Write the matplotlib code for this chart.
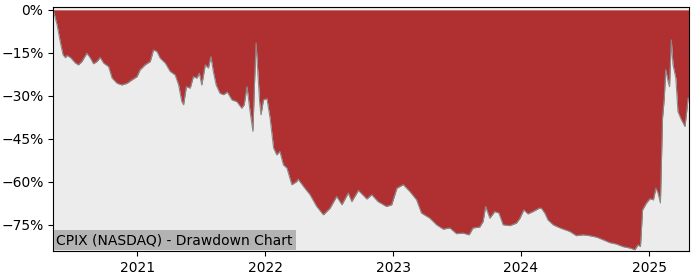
import matplotlib
matplotlib.use('Agg')
import matplotlib.pyplot as plt
import matplotlib.dates as mdates
from matplotlib.ticker import PercentFormatter
import pandas as pd

# drawdown (%), CPIX daily close
dates = [
    '2020-05-06', '2020-05-17', '2020-05-26', '2020-06-03', '2020-06-10', '2020-06-14',
    '2020-06-24', '2020-07-08', '2020-07-17', '2020-07-27', '2020-08-10', '2020-08-20',
    '2020-08-29', '2020-09-08', '2020-09-17', '2020-09-27', '2020-10-11', '2020-10-21',
    '2020-11-04', '2020-11-18', '2020-12-03', '2020-12-17', '2020-12-31', '2021-01-09',
    '2021-01-23', '2021-02-07', '2021-02-16', '2021-02-26', '2021-03-07', '2021-03-22',
    '2021-04-05', '2021-04-19', '2021-04-29', '2021-05-08', '2021-05-13', '2021-05-21',
    '2021-06-01', '2021-06-10', '2021-06-20', '2021-06-27', '2021-07-04', '2021-07-14',
    '2021-07-23', '2021-07-30', '2021-08-06', '2021-08-14', '2021-08-25', '2021-09-04',
    '2021-09-15', '2021-09-28', '2021-10-12', '2021-10-26', '2021-11-02', '2021-11-10',
    '2021-11-19', '2021-11-27', '2021-12-01', '2021-12-06', '2021-12-11', '2021-12-16',
    '2021-12-20', '2021-12-27', '2022-01-06', '2022-01-15', '2022-01-25', '2022-02-03',
    '2022-02-12', '2022-02-22', '2022-03-04', '2022-03-18', '2022-04-01', '2022-04-05',
    '2022-04-24', '2022-05-09', '2022-05-28', '2022-06-16', '2022-07-05', '2022-07-24',
    '2022-08-08', '2022-08-26', '2022-09-05', '2022-09-24', '2022-10-18', '2022-11-01',
    '2022-11-19', '2022-12-13', '2022-12-28', '2023-01-12', '2023-01-30', '2023-02-18',
    '2023-03-09', '2023-03-23', '2023-04-16', '2023-05-05', '2023-05-24', '2023-06-12',
    '2023-07-01', '2023-07-20', '2023-08-06', '2023-08-17', '2023-09-05', '2023-09-15',
    '2023-09-22', '2023-10-04', '2023-10-18', '2023-10-30', '2023-11-11', '2023-11-30',
    '2023-12-19', '2023-12-29', '2024-01-09', '2024-01-21', '2024-02-04', '2024-02-22',
    '2024-02-28', '2024-03-09', '2024-03-18', '2024-04-02', '2024-04-16', '2024-04-30',
    '2024-05-19', '2024-06-07', '2024-06-26', '2024-07-15', '2024-08-04', '2024-08-22',
    '2024-09-10', '2024-09-29', '2024-10-18', '2024-11-07', '2024-11-21', '2024-11-30',
    '2024-12-07', '2024-12-13', '2024-12-24', '2025-01-03', '2025-01-13', '2025-01-20',
    '2025-01-26', '2025-02-02', '2025-02-08', '2025-02-13', '2025-02-17', '2025-02-24',
    '2025-02-28', '2025-03-05', '2025-03-10', '2025-03-18', '2025-03-24', '2025-04-03',
    '2025-04-13', '2025-04-17', '2025-04-22', '2025-04-24',
]
drawdown = [
    0.0, -5.2, -11.1, -15.7, -16.7, -15.9,
    -16.6, -18.5, -19.2, -18.0, -15.1, -16.8,
    -18.8, -18.0, -16.6, -18.6, -19.8, -23.8,
    -25.6, -26.2, -25.6, -24.4, -23.3, -20.9,
    -19.2, -18.0, -14.0, -14.5, -16.8, -18.6,
    -21.5, -22.7, -26.2, -32.0, -33.1, -26.8,
    -27.3, -23.3, -23.8, -22.1, -26.2, -19.2,
    -20.3, -16.3, -21.5, -26.2, -29.1, -29.6,
    -28.7, -31.4, -32.0, -34.3, -33.1, -26.8,
    -35.5, -42.4, -27.3, -11.6, -21.5, -32.0,
    -36.6, -31.4, -31.0, -37.8, -48.2, -50.6,
    -49.4, -54.1, -55.2, -61.0, -59.9, -59.1,
    -62.2, -64.5, -68.6, -71.5, -69.2, -65.1,
    -68.0, -63.9, -66.9, -63.0, -66.0, -64.5,
    -66.9, -68.6, -68.0, -62.2, -61.0, -63.4,
    -66.3, -70.9, -72.7, -75.0, -76.5, -76.1,
    -78.1, -77.9, -78.5, -76.1, -75.8, -73.8,
    -68.6, -72.7, -70.4, -70.9, -75.0, -75.3,
    -74.4, -72.7, -69.8, -71.2, -70.4, -69.2,
    -69.2, -70.9, -73.3, -75.0, -75.8, -76.5,
    -77.3, -78.8, -78.5, -78.8, -79.3, -80.2,
    -81.2, -81.7, -82.6, -83.1, -83.7, -82.0,
    -82.6, -69.8, -67.4, -65.9, -66.3, -62.2,
    -63.9, -67.4, -37.8, -30.8, -20.9, -25.0,
    -26.8, -10.5, -19.2, -23.8, -35.5, -38.4,
    -40.7, -36.6, -30.8, -30.8,
]
ticker_label = 'CPIX (NASDAQ) - Drawdown Chart'

x = pd.to_datetime(dates)

fig = plt.figure(figsize=(7, 2.8), dpi=100)
ax = fig.add_axes([0.076, 0.104, 0.908, 0.871])
ax.set_facecolor('#ececec')

ax.fill_between(x, drawdown, 0, color='#b03031', linewidth=0)
ax.plot(x, drawdown, color='#8a8a8a', linewidth=0.8)

ax.set_xlim(x[0], x[-1])
ax.set_ylim(-84.1, 1)
ax.set_yticks([0, -15, -30, -45, -60, -75])
ax.yaxis.set_major_formatter(PercentFormatter(decimals=0))
ax.xaxis.set_major_locator(mdates.YearLocator())
ax.xaxis.set_major_formatter(mdates.DateFormatter('%Y'))

ax.text(0.005, 0.015, ticker_label, transform=ax.transAxes, fontsize=10,
        ha='left', va='bottom',
        bbox=dict(facecolor='#b3b3b3', edgecolor='none', pad=2))

fig.savefig('out.png', dpi=100, facecolor='white')
